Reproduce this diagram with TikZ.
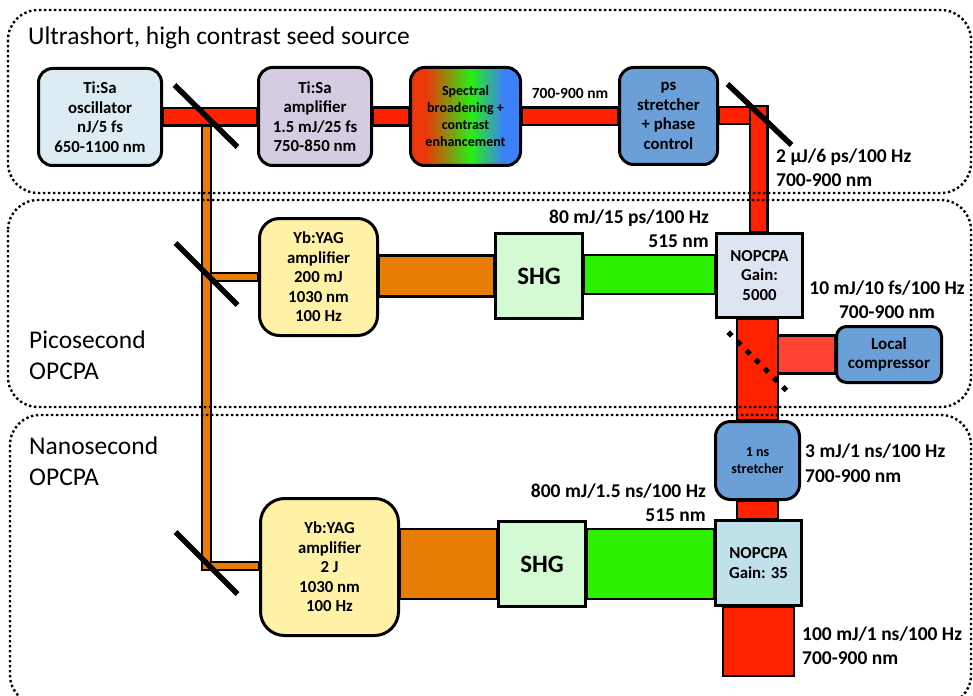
\documentclass[tikz,border=0pt]{standalone}
\usepackage{fontspec}
\setmainfont{Carlito}
\usetikzlibrary{calc}
\definecolor{beamred}{RGB}{255,34,0}
\definecolor{lightbeamred}{RGB}{255,66,50}
\definecolor{beamorange}{RGB}{232,125,5}
\definecolor{beamgreen}{RGB}{44,240,0}
\definecolor{oscfill}{RGB}{221,236,242}
\definecolor{ampfill}{RGB}{213,204,226}
\definecolor{psfill}{RGB}{106,159,216}
\definecolor{ybfill}{RGB}{255,241,166}
\definecolor{shgfill}{RGB}{212,250,212}
\definecolor{nopafill}{RGB}{221,230,240}
\definecolor{nopbfill}{RGB}{192,224,234}
\definecolor{sred}{RGB}{235,55,10}
\definecolor{sgreen}{RGB}{40,238,20}
\definecolor{sblue}{RGB}{60,128,250}
\pgfdeclarehorizontalshading{specshade}{100bp}{color(0bp)=(sred); color(32bp)=(sred); color(52.5bp)=(sgreen); color(67.5bp)=(sblue); color(100bp)=(sblue)}
\pgfdeclarelayer{bg}
\pgfdeclarelayer{frames}
\pgfsetlayers{bg,frames,main}
\newcommand{\boxfont}{\fontsize{16.8}{19.5}\selectfont\bfseries}
\newcommand{\labfont}{\fontsize{19.5}{23}\selectfont\bfseries}
\newcommand{\headfont}{\fontsize{25.5}{30}\selectfont}
\newcommand{\shgfont}{\fontsize{25}{30}\selectfont\bfseries}
\newcommand{\specfont}{\fontsize{14}{17}\selectfont\bfseries}
\newcommand{\strfont}{\fontsize{14}{17.5}\selectfont\bfseries}
\newcommand{\compfont}{\fontsize{17}{19}\selectfont\bfseries}
\newcommand{\topnmfont}{\fontsize{15.5}{18}\selectfont\bfseries}
\tikzset{
  box/.style={draw, line width=3pt, align=center, inner sep=0pt, font=\boxfont},
  rbox/.style={box, rounded corners=14pt},
  beamline/.style={draw, line width=2.5pt},
  redbeam/.style={beamline, fill=beamred},
  lightredbeam/.style={beamline, fill=lightbeamred},
  orangebeam/.style={beamline, fill=beamorange},
  greenbeam/.style={beamline, fill=beamgreen},
  mirror/.style={line width=5.5pt},
  lab/.style={font=\labfont, inner sep=0pt},
  head/.style={font=\headfont, inner sep=0pt},
  frame/.style={line width=2.4pt, dash pattern=on 2.4pt off 2.6pt, rounded corners=30pt}
}
\begin{document}
\begin{tikzpicture}[x=1pt,y=-1pt]
\useasboundingbox (0,0) rectangle (973,695);

% boxes
\node[rbox, fill=oscfill, minimum width=123, minimum height=97] (osc) at (100,117) {Ti:Sa\\oscillator\\nJ/5 fs\\650-1100 nm};
\node[rbox, fill=ampfill, minimum width=113, minimum height=98] (amp) at (315,116.5) {Ti:Sa\\amplifier\\1.5 mJ/25 fs\\750-850 nm};
\node[rbox, shading=specshade, font=\specfont, minimum width=110, minimum height=98] (spec) at (465.5,116.5) {Spectral\\broadening +\\contrast\\enhancement};
\node[rbox, fill=psfill, minimum width=98, minimum height=97] (ps) at (668.5,116) {ps\\stretcher\\+ phase\\control};
\node[rbox, rounded corners=20pt, fill=ybfill, minimum width=118, minimum height=117] (amp1) at (318.5,277) {Yb:YAG\\amplifier\\200 mJ\\1030 nm\\100 Hz};
\node[box, fill=shgfill, font=\shgfont, minimum width=87, minimum height=85] (shg1) at (539,276) {SHG};
\node[box, fill=nopafill, minimum width=86, minimum height=84] (nop1) at (759.5,275.5) {NOPCPA\\Gain:\\5000};
\node[rbox, rounded corners=10pt, fill=psfill, font=\compfont, minimum width=105, minimum height=56] (comp) at (889,354.5) {Local\\compressor};
\node[rbox, rounded corners=24pt, fill=ybfill, minimum width=138, minimum height=137] (amp2) at (329.5,567) {Yb:YAG\\amplifier\\2 J\\1030 nm\\100 Hz};
\node[box, fill=shgfill, font=\shgfont, minimum width=87, minimum height=85] (shg2) at (542,564) {SHG};
\node[box, fill=nopbfill, minimum width=86, minimum height=85] (nop2) at (758.5,563) {NOPCPA\\Gain: 35};
\node[rbox, rounded corners=15pt, fill=psfill, font=\strfont, minimum width=84, minimum height=78] (str) at (757.5,460.5) {1 ns\\stretcher};

% mirror positions
\coordinate (m1) at (206.5,116);
\coordinate (m2) at (758.5,115);
\coordinate (m3) at (206.5,277);
\coordinate (m4) at (206.5,566);
\coordinate (bs) at (730,334);
\coordinate (out) at (758.5,676);

\begin{pgfonlayer}{bg}
  % orange pump seed line
  \draw[orangebeam] ($(m1)+(-4.5,0)$) -- ($(m4)+(-4.5,4)$) -- ($(amp2.west |- m4)+(0,4)$) -- ($(amp2.west |- m4)+(0,-4)$) -- ($(m4)+(4.5,-4)$) -- ($(m1)+(4.5,0)$) -- cycle;
  \draw[orangebeam] ($(m3)+(4.5,-4)$) rectangle ($(amp1.west)+(0,4)$);
  % seed line
  \draw[redbeam] ($(osc.east)+(0,-9)$) rectangle ($(amp.west)+(0,9)$);
  \draw[redbeam] ($(amp.east)+(0,-9)$) rectangle ($(spec.west)+(0,9)$);
  \draw[redbeam] ($(spec.east)+(0,-9)$) rectangle ($(ps.west)+(0,9)$);
  \draw[redbeam] ($(ps.east)+(0,-9)$) rectangle ($(m2)+(0,9)$);
  \draw[redbeam] ($(m2)+(-8.5,-9)$) rectangle ($(nop1.north)+(8,0)$);
  % picosecond stage
  \draw[orangebeam] ($(amp1.east |- shg1.west)+(0,-20.5)$) rectangle ($(shg1.west)+(0,20.5)$);
  \draw[greenbeam] ($(shg1.east)+(0,-21)$) rectangle ($(nop1.west |- shg1.east)+(0,18)$);
  \draw[lightredbeam] ($(comp.west)+(0,-19)$) rectangle ($(comp.west -| str.north)+(20,19)$);
  \draw[redbeam] ($(str.north)+(-20.5,0)$) rectangle ($(nop1.south -| str.north)+(20.5,0)$);
  % nanosecond stage
  \draw[orangebeam] ($(amp2.east |- shg2.west)+(0,-35)$) rectangle ($(shg2.west)+(0,35)$);
  \draw[greenbeam] ($(shg2.east)+(0,-35)$) rectangle ($(nop2.west |- shg2.east)+(0,35)$);
  \draw[redbeam] ($(str.south)+(-20.5,0)$) rectangle ($(nop2.north -| str.south)+(20.5,0)$);
  \draw[redbeam] ($(nop2.south)+(-35.5,0)$) rectangle ($(out)+(35.5,0)$);
\end{pgfonlayer}

\begin{pgfonlayer}{frames}
  \draw[frame] (8,10) rectangle (971,193);
  \draw[frame] (8,200) rectangle (971,407);
  \draw[frame] (10,415) rectangle (971,705);
\end{pgfonlayer}

% mirrors
\draw[mirror] ($(m1)+(-32,-31)$) -- ($(m1)+(31,31)$);
\draw[mirror] ($(m2)+(-31,-31)$) -- ($(m2)+(33,30)$);
\draw[mirror] ($(m3)+(-31,-34)$) -- ($(m3)+(31,28)$);
\draw[mirror] ($(m4)+(-31,-34)$) -- ($(m4)+(31,28)$);
% beam splitter
\foreach \i in {0,...,6}{
  \fill ($(bs)+(9.1*\i,9.1*\i)$) ++(-3.6,0) -- ++(3.6,-3.6) -- ++(3.6,3.6) -- ++(-3.6,3.6) -- cycle;
}

% section headings
\node[head, anchor=base west] (h1) at (28,45) {Ultrashort, high contrast seed source};
\node[head, anchor=base west] (h2a) at (29,348) {Picosecond};
\node[head, anchor=base west] (h2b) at (29,379) {OPCPA};
\node[head, anchor=base west] (h3a) at (29,454) {Nanosecond};
\node[head, anchor=base west] (h3b) at (29,485) {OPCPA};

% labels
\node[lab, font=\topnmfont, anchor=base] (t1) at (570,99) {700-900 nm};
\node[lab, anchor=base west] (t2a) at (776,163) {2 µJ/6 ps/100 Hz};
\node[lab, anchor=base west] (t2b) at (776,186) {700-900 nm};
\node[lab, anchor=base east] (t3a) at (709,223) {80 mJ/15 ps/100 Hz};
\node[lab, anchor=base east] (t3b) at (709,247) {515 nm};
\node[lab, anchor=base] (t4a) at (887,294) {10 mJ/10 fs/100 Hz};
\node[lab, anchor=base] (t4b) at (887,318) {700-900 nm};
\node[lab, anchor=base west] (t5a) at (805,457) {3 mJ/1 ns/100 Hz};
\node[lab, anchor=base west] (t5b) at (805,482) {700-900 nm};
\node[lab, anchor=base east] (t6a) at (706,497) {800 mJ/1.5 ns/100 Hz};
\node[lab, anchor=base east] (t6b) at (706,521) {515 nm};
\node[lab, anchor=base west] (t7a) at (802,640) {100 mJ/1 ns/100 Hz};
\node[lab, anchor=base west] (t7b) at (802,664) {700-900 nm};
\end{tikzpicture}
\end{document}
